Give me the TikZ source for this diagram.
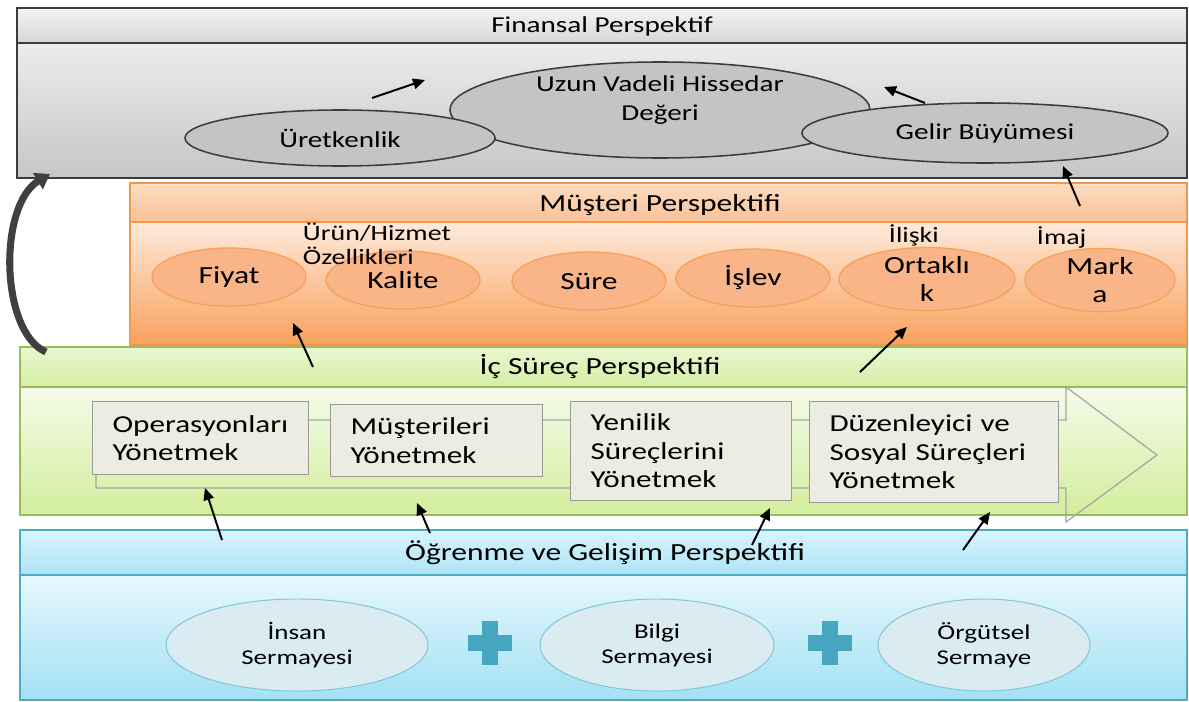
\documentclass[tikz,border=0pt]{standalone}
\usepackage{fontspec}
\setmainfont{Carlito}[FakeStretch=1.28]
\usetikzlibrary{shapes.geometric,arrows.meta}

\definecolor{finline}{HTML}{3C3C3C}
\definecolor{finoval}{HTML}{C4C4C4}
\definecolor{finhdtop}{HTML}{F4F4F4}
\definecolor{finhdbot}{HTML}{D6D6D6}
\definecolor{finbdtop}{HTML}{ECECEC}
\definecolor{finbdbot}{HTML}{C6C6C6}
\definecolor{musline}{HTML}{F79646}
\definecolor{musoval}{HTML}{F9B487}
\definecolor{mushdtop}{HTML}{FDDCC2}
\definecolor{mushdbot}{HTML}{FAC197}
\definecolor{musbdtop}{HTML}{FEEADB}
\definecolor{musbdbot}{HTML}{F8A15D}
\definecolor{icline}{HTML}{9BBB59}
\definecolor{icbox}{HTML}{ECECE0}
\definecolor{ichdtop}{HTML}{E9F7D0}
\definecolor{ichdbot}{HTML}{D3EEA4}
\definecolor{icbdtop}{HTML}{F5FBEA}
\definecolor{icbdbot}{HTML}{D2EE9C}
\definecolor{ogrline}{HTML}{4BACC6}
\definecolor{ogroval}{HTML}{DAECF2}
\definecolor{ogrhdtop}{HTML}{D8F4FC}
\definecolor{ogrhdbot}{HTML}{AEE4F5}
\definecolor{ogrbdtop}{HTML}{E6F8FE}
\definecolor{ogrbdbot}{HTML}{A3E0F3}
\definecolor{plusfill}{HTML}{46A6BF}

\tikzset{
  ttl/.style={font=\fontsize{17.5}{21}\selectfont},
  lbl/.style={font=\fontsize{15.5}{17}\selectfont,align=left,anchor=west},
  finoval/.style={ellipse,draw=finline,line width=1.1pt,fill=finoval,inner sep=0pt,
    align=center,font=\fontsize{16.2}{20}\selectfont},
  musoval/.style={ellipse,draw=musline!90!white,line width=0.9pt,fill=musoval,inner sep=0pt,
    align=center,font=\fontsize{17.5}{19.5}\selectfont,minimum width=3.85cm,minimum height=1.45cm},
  icstep/.style={rectangle,draw=gray!80,line width=0.8pt,fill=icbox,anchor=north west,
    align=left,inner xsep=0.5cm,text width=#1,font=\fontsize{17.3}{20.3}\selectfont},
  ogroval/.style={ellipse,draw=ogrline!70!white,line width=0.7pt,fill=ogroval,inner sep=0pt,
    align=center,font=\fontsize{15}{17.8}\selectfont,minimum width=6cm,minimum height=2.3cm},
  conn/.style={-{Triangle[length=8.5pt,width=7.5pt]},line width=1.4pt,black},
}

\newcommand{\plusmark}[1]{%
  \fill[plusfill] ([xshift=-0.55cm,yshift=-0.2cm]#1) rectangle ([xshift=0.55cm,yshift=0.2cm]#1);
  \fill[plusfill] ([xshift=-0.2cm,yshift=-0.55cm]#1) rectangle ([xshift=0.2cm,yshift=0.55cm]#1);}

\begin{document}
\begin{tikzpicture}[x=0.025cm,y=-0.025cm]
\useasboundingbox[fill=white] (0,0) rectangle (1189,702);

% Finansal Perspektif
\begin{scope}
\draw[finline,line width=1.3pt,top color=finhdtop,bottom color=finhdbot] (17,8) rectangle (1187,43);
\draw[finline,line width=1.3pt,top color=finbdtop,bottom color=finbdbot] (17,43) rectangle (1187,178);
\node[ttl,font=\fontsize{16.2}{20}\selectfont] (fintitle) at (602,26) {Finansal Perspektif};
\node[finoval,minimum width=10.5cm,minimum height=2.4cm] (uzun) at (660,110) {};
\node[align=center,font=\fontsize{16.2}{20}\selectfont] (uzuntxt) at (660,100) {Uzun Vadeli Hissedar\\Değeri};
\node[finoval,minimum width=7.75cm,minimum height=1.4cm] (uret) at (340,138) {Üretkenlik};
\node[finoval,minimum width=9.15cm,minimum height=1.5cm] (gelir) at (985,133) {Gelir Büyümesi};
\end{scope}

% Müşteri Perspektifi
\begin{scope}
\draw[musline,line width=1pt,top color=mushdtop,bottom color=mushdbot] (130,183) rectangle (1187,222);
\draw[musline,line width=1pt,top color=musbdtop,bottom color=musbdbot] (130,222) rectangle (1187,345);
\node[ttl] (mustitle) at (660,205) {Müşteri Perspektifi};
\node[musoval] (fiyat) at (229,277) {Fiyat};
\node[musoval] (kalite) at (403,280) {Kalite};
\node[musoval] (sure) at (589,281) {Süre};
\node[musoval] (islev) at (753,278) {İşlev};
\node[musoval,minimum width=4.4cm,minimum height=1.55cm] (ortak) at (927,279) {Ortaklı\\k};
\node[musoval,minimum width=3.75cm,minimum height=1.5cm] (marka) at (1100,280) {Mark\\a};
\node[lbl] (urun) at (298,244) {Ürün/Hizmet\\Özellikleri};
\node[lbl] (iliski) at (884,235) {İlişki};
\node[lbl] (imaj) at (1032,237) {İmaj};
\end{scope}

% İç Süreç Perspektifi
\begin{scope}
\draw[icline,line width=1pt,top color=ichdtop,bottom color=ichdbot] (20,347) rectangle (1187,387);
\draw[icline,line width=1pt,top color=icbdtop,bottom color=icbdbot] (20,387) rectangle (1187,515);
\node[ttl] (ictitle) at (600,367) {İç Süreç Perspektifi};
\draw[gray!70,line width=0.9pt] (96,420) -- (1066,420) -- (1066,387) -- (1157,455)
  -- (1066,522) -- (1066,488) -- (96,488) -- cycle;
\node[icstep=4.4cm,minimum height=1.825cm] (opr) at (92,401) {Operasyonları\\Yönetmek};
\node[icstep=4.3cm,minimum height=1.8cm] (mus) at (330,404) {Müşterileri\\Yönetmek};
\node[icstep=4.525cm,minimum height=2.475cm] (yen) at (570,401) {Yenilik\\Süreçlerini\\Yönetmek};
\node[icstep=5.225cm,minimum height=2.525cm] (duz) at (809,401) {Düzenleyici ve\\Sosyal Süreçleri\\Yönetmek};
\end{scope}

% Öğrenme ve Gelişim Perspektifi
\begin{scope}
\draw[ogrline,line width=1pt,top color=ogrhdtop,bottom color=ogrhdbot] (20,530) rectangle (1187,575);
\draw[ogrline,line width=1pt,top color=ogrbdtop,bottom color=ogrbdbot] (20,575) rectangle (1187,700);
\node[ttl] (ogrtitle) at (605,553) {Öğrenme ve Gelişim Perspektifi};
\node[ogroval,minimum width=6.55cm] (insan) at (297,645) {İnsan\\Sermayesi};
\node[ogroval,minimum width=5.85cm] (bilgi) at (657,645) {Bilgi\\Sermayesi};
\node[ogroval,minimum width=5.3cm] (orgut) at (984,645) {Örgütsel\\Sermaye};
\coordinate (plus1) at (490,643);
\coordinate (plus2) at (830,643);
\plusmark{plus1}
\plusmark{plus2}
\end{scope}

% oklar
\coordinate (a1) at (372,98);   \coordinate (b1) at (425,80);
\coordinate (a2) at (925,103);  \coordinate (b2) at (884,87);
\coordinate (a3) at (1080,206); \coordinate (b3) at (1063,166);
\coordinate (a4) at (313,367);  \coordinate (b4) at (293,323);
\coordinate (a5) at (860,372);  \coordinate (b5) at (907,327);
\coordinate (a6) at (222,540);  \coordinate (b6) at (205,488);
\coordinate (a7) at (430,533);  \coordinate (b7) at (417,503);
\coordinate (a8) at (752,545);  \coordinate (b8) at (770,508);
\coordinate (a9) at (963,550);  \coordinate (b9) at (990,512);
\foreach \i in {1,...,9}
  \draw[conn] (a\i) -- (b\i);

% döngü oku
\coordinate (loopa) at (46,352);
\coordinate (loopb) at (50,174);
\draw[-{Triangle[length=10pt,width=13pt]},line width=5pt,black!75]
  (loopa) .. controls (0,332) and (-2,205) .. (loopb);

\end{tikzpicture}
\end{document}
